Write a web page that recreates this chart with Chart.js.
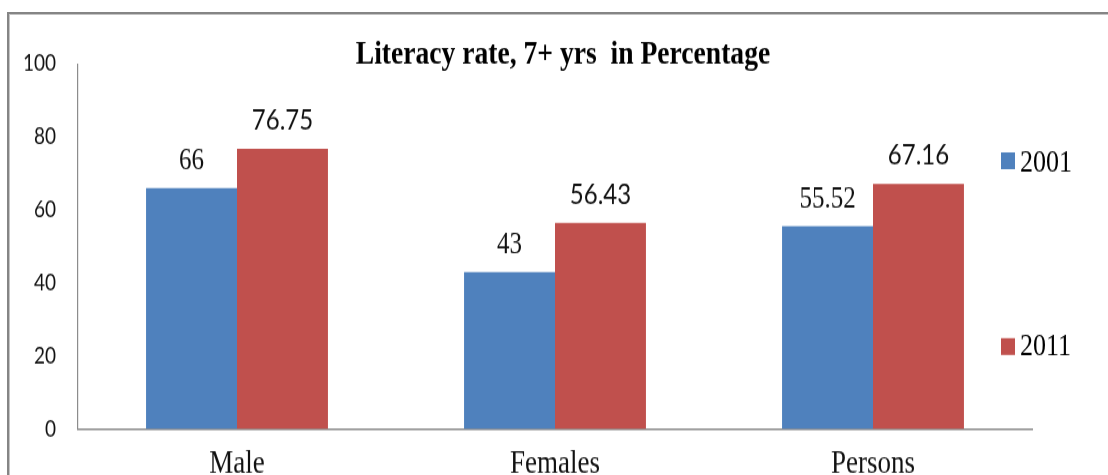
<!DOCTYPE html>
<html>
<head>
<meta charset="utf-8">
<script src="https://cdn.jsdelivr.net/npm/chart.js@4/dist/chart.umd.min.js"></script>
<style>
  html, body { margin: 0; padding: 0; background: #fff; width: 1108px; height: 475px; overflow: hidden; }
  #frame {
    position: absolute; left: 7px; top: 12px; width: 1200px; height: 600px;
    border-top: 2px solid #858585; border-left: 2px solid #858585;
    box-shadow: inset 1px 1px 0 #c4c4c4;
    pointer-events: none;
  }
  #wrap {
    position: absolute; left: 0; top: 0; width: 1108px; height: 420px;
    transform: scaleY(1.2); transform-origin: 0 0;
  }
</style>
</head>
<body>
<div id="frame"></div>
<div id="wrap"><canvas id="chart" width="1108" height="420"></canvas></div>
<script>
// Literacy rate (age 7+) by group, census years 2001 and 2011
const chartTitle = 'Literacy rate, 7+ yrs  in Percentage';
const categories = ['Male', 'Females', 'Persons'];
const seriesNames = ['2001', '2011'];
const values2001 = [66, 43, 55.52];
const values2011 = [76.75, 56.43, 67.16];
const yTickValues = [0, 20, 40, 60, 80, 100];

const seriesColors = ['#4F81BD', '#C0504D'];
const serif = '"Liberation Serif", "Times New Roman", serif';
const labelFonts = ['25px ' + serif, '24px Lato, sans-serif'];

// Value labels above each bar
const valueLabels = {
  id: 'valueLabels',
  afterDatasetsDraw(chart) {
    const ctx = chart.ctx;
    ctx.save();
    ctx.fillStyle = '#111';
    ctx.textAlign = 'center';
    ctx.textBaseline = 'alphabetic';
    chart.data.datasets.forEach((ds, di) => {
      const meta = chart.getDatasetMeta(di);
      meta.data.forEach((bar, i) => {
        ctx.font = labelFonts[di];
        ctx.fillText(String(ds.data[i]), bar.x, bar.y - 16);
      });
    });
    ctx.restore();
  }
};

// Heading and right-hand key
const headingAndKey = {
  id: 'headingAndKey',
  afterDraw(chart) {
    const ctx = chart.ctx;
    ctx.save();
    ctx.fillStyle = '#000';
    ctx.textAlign = 'center';
    ctx.textBaseline = 'alphabetic';
    ctx.font = 'bold 27.6px ' + serif;
    ctx.fillText(chartTitle, 563, 52.5);

    const rows = [{ cy: 134, base: 142.5 }, { cy: 288.8, base: 296.4 }];
    ctx.textAlign = 'left';
    ctx.font = '26px ' + serif;
    chart.data.datasets.forEach((ds, di) => {
      const r = rows[di];
      ctx.fillStyle = ds.backgroundColor;
      ctx.fillRect(1001, r.cy - 7, 14, 14);
      ctx.fillStyle = '#000';
      ctx.fillText(ds.label, 1020, r.base);
    });
    ctx.restore();
  }
};

new Chart(document.getElementById('chart'), {
  type: 'bar',
  data: {
    labels: categories,
    datasets: [
      { label: seriesNames[0], data: values2001, backgroundColor: seriesColors[0] },
      { label: seriesNames[1], data: values2011, backgroundColor: seriesColors[1] }
    ]
  },
  options: {
    responsive: false,
    animation: false,
    events: [],
    layout: { padding: { left: 0, top: 53.3, right: 76, bottom: 0 } },
    datasets: { bar: { categoryPercentage: 0.572, barPercentage: 1.0 } },
    plugins: {
      legend: { display: false },
      title: { display: false },
      tooltip: { enabled: false }
    },
    scales: {
      x: {
        grid: { display: false, drawTicks: false },
        border: { display: true, color: '#8c8c8c', width: 1.5 },
        ticks: { color: '#111', font: { family: 'Liberation Serif', size: 27 }, padding: 13 },
        afterFit(scale) { scale.height = 62.5; }
      },
      y: {
        min: 0, max: 100,
        afterBuildTicks(scale) { scale.ticks = yTickValues.map(v => ({ value: v })); },
        grid: { display: false, drawTicks: false },
        border: { display: true, color: '#8c8c8c', width: 1.2 },
        ticks: { color: '#111', font: { family: 'Lato', size: 19 }, padding: 22 },
        afterFit(scale) { scale.width = 78; }
      }
    }
  },
  plugins: [valueLabels, headingAndKey]
});
</script>
</body>
</html>
